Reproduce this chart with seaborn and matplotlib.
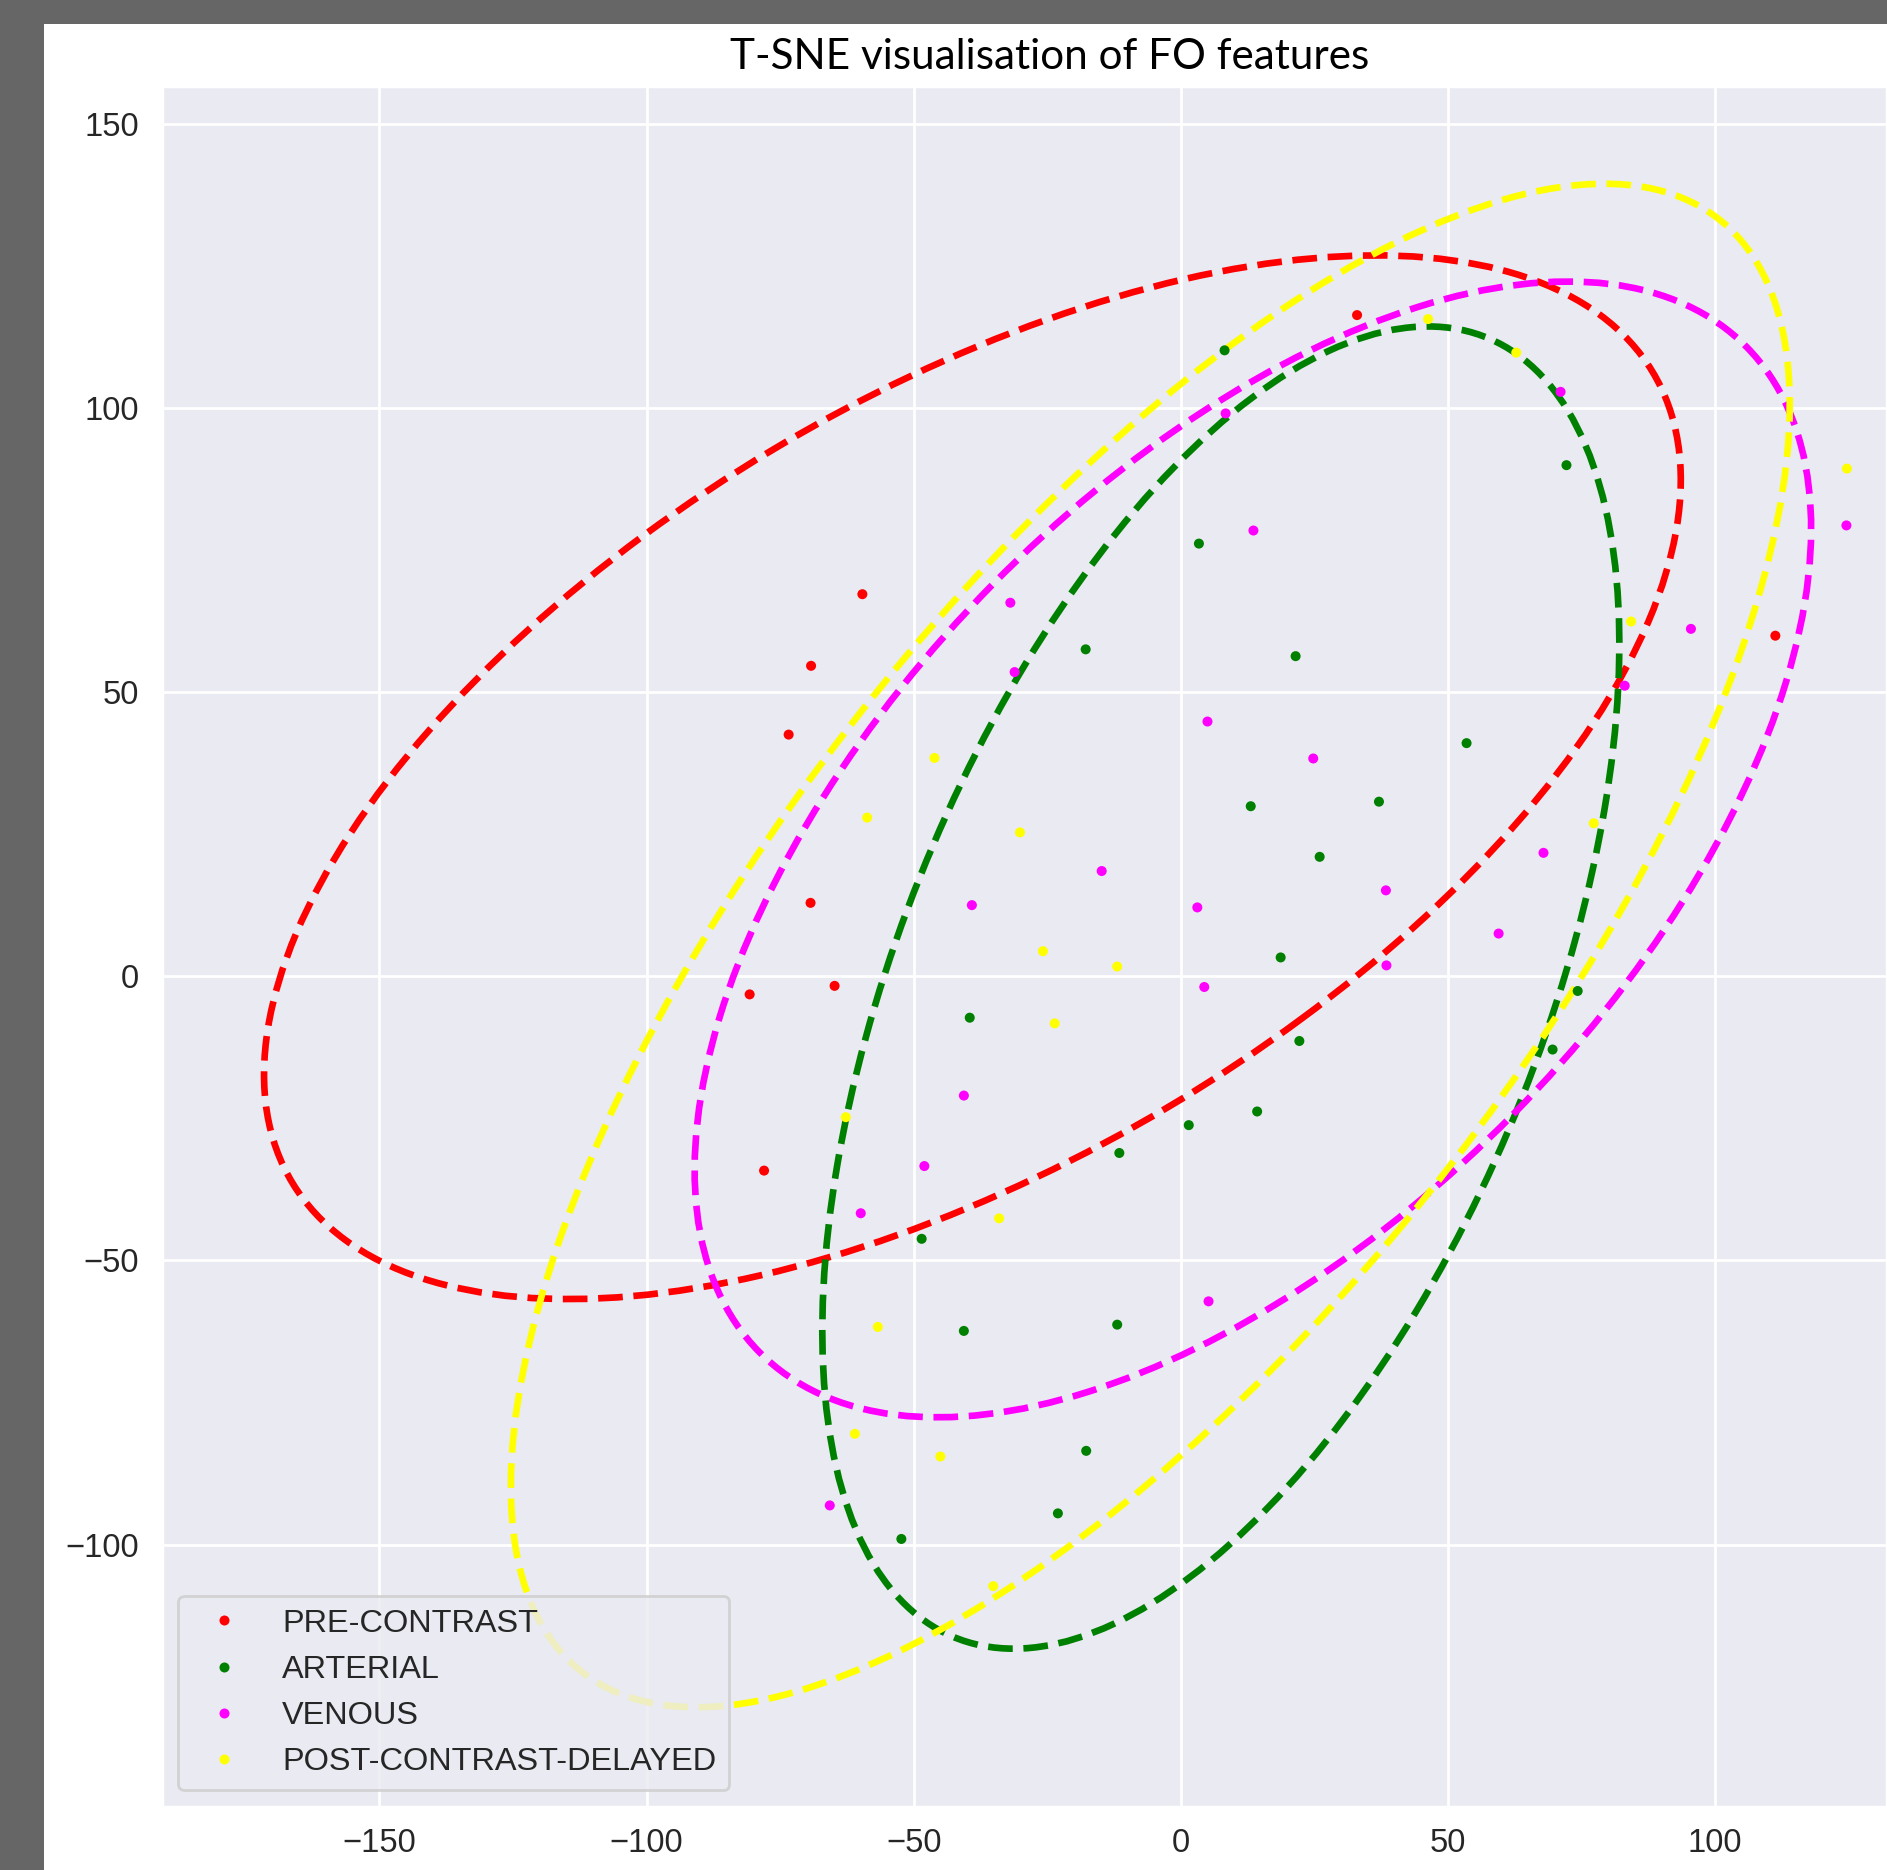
import numpy as np
import pandas as pd
import matplotlib
matplotlib.use("Agg")
import matplotlib.pyplot as plt
import matplotlib.transforms as transforms
from matplotlib.patches import Ellipse, Rectangle
from matplotlib import font_manager
import seaborn as sns

# ---------------- data ----------------
phases = ["PRE-CONTRAST", "ARTERIAL", "VENOUS", "POST-CONTRAST-DELAYED"]
phase_colors = ["red", "green", "magenta", "yellow"]

pre_x = [33.0, -59.6, -69.2, -73.4, -69.3, -80.7, -64.8, -78.0, 111.3]
pre_y = [116.3, 67.2, 54.6, 42.5, 12.9, -3.2, -1.7, -34.2, 59.9]

art_x = [8.2, 72.2, 3.4, -17.8, 21.5, 53.5, 13.1, 37.1, 26.0, 18.7, -39.5, 22.2,
         74.3, 69.6, 14.3, 1.5, -11.5, -48.5, -40.6, -11.9, -17.7, -23.0, -52.3]
art_y = [110.1, 89.9, 76.1, 57.5, 56.3, 41.0, 29.9, 30.7, 21.0, 3.3, -7.3, -11.4,
         -2.6, -12.9, -23.8, -26.2, -31.1, -46.2, -62.4, -61.3, -83.5, -94.5, -99.0]

ven_x = [8.4, 71.1, 13.6, -31.9, -31.1, 5.0, 24.8, 124.6, 95.5, 83.1, -14.8, -39.1,
         3.1, 38.4, 67.9, 59.5, 38.5, 4.4, -40.6, -48.0, -59.9, 5.2, -65.7]
ven_y = [99.0, 102.8, 78.4, 65.7, 53.5, 44.8, 38.3, 79.3, 61.1, 51.1, 18.5, 12.5,
         12.1, 15.1, 21.7, 7.5, 1.9, -1.9, -21.0, -33.4, -41.7, -57.2, -93.1]

del_x = [46.3, 62.8, 124.7, 84.3, -46.1, -58.7, -30.1, 77.3, -25.8, -11.9, -23.6,
         -62.7, -34.0, -56.7, -61.0, -45.0, -35.1]
del_y = [115.6, 109.7, 89.3, 62.4, 38.4, 27.9, 25.3, 26.9, 4.4, 1.7, -8.3,
         -24.8, -42.6, -61.7, -80.5, -84.5, -107.3]

# confidence ellipses: centre, half-extent in x / y, correlation
ell_cx = [-39.0, 7.5, 13.5, -5.7]
ell_cy = [35.0, -2.0, 22.3, 5.4]
ell_sx = [132.6, 74.6, 104.5, 119.7]
ell_sy = [91.8, 116.3, 99.9, 134.0]
ell_rho = [0.57, 0.52, 0.565, 0.71]

x_ticks = [-150, -100, -50, 0, 50, 100]
y_ticks = [-100, -50, 0, 50, 100, 150]
title = "T-SNE visualisation of FO features"

# ---------------- style ----------------
sns.set_theme(style="darkgrid")
plt.rcParams["font.family"] = ["Liberation Sans", "DejaVu Sans"]

W, H, DPI = 1887, 1870, 200
fig = plt.figure(figsize=(W / DPI, H / DPI), dpi=DPI, facecolor="white")

# grey frame strips (left and top)
fig.add_artist(Rectangle((0, 0), 44 / W, 1, transform=fig.transFigure,
                         facecolor="#666666", edgecolor="none", zorder=10))
fig.add_artist(Rectangle((0, 1 - 24 / H), 1, 24 / H, transform=fig.transFigure,
                         facecolor="#666666", edgecolor="none", zorder=10))

ax_l, ax_r, ax_t, ax_b = 162, W, 86, 1806.7
ax = fig.add_axes([ax_l / W, 1 - ax_b / H, (ax_r - ax_l) / W, (ax_b - ax_t) / H])

df = pd.DataFrame({
    "x": pre_x + art_x + ven_x + del_x,
    "y": pre_y + art_y + ven_y + del_y,
    "phase": [phases[0]] * len(pre_x) + [phases[1]] * len(art_x)
             + [phases[2]] * len(ven_x) + [phases[3]] * len(del_x),
})
palette = dict(zip(phases, phase_colors))

sns.scatterplot(data=df, x="x", y="y", hue="phase", hue_order=phases,
                palette=palette, s=13, linewidth=0, ax=ax, zorder=3)

for cx, cy, sx, sy, rho, col in zip(ell_cx, ell_cy, ell_sx, ell_sy, ell_rho, phase_colors):
    e = Ellipse((0, 0), width=2 * np.sqrt(1 + rho), height=2 * np.sqrt(1 - rho),
                facecolor="none", edgecolor=col, lw=2.4, ls="--", zorder=2)
    tr = transforms.Affine2D().rotate_deg(45).scale(sx, sy).translate(cx, cy)
    e.set_transform(tr + ax.transData)
    ax.add_patch(e)

ax.set_xlim(-190.7, 132.2)
ax.set_ylim(-146.1, 156.6)
ax.set_xticks(x_ticks)
ax.set_yticks(y_ticks)
ax.set_xlabel("")
ax.set_ylabel("")
ax.tick_params(axis="both", length=0, labelsize=11.8, labelcolor="#262626")
ax.tick_params(axis="x", pad=7.6)
ax.tick_params(axis="y", pad=8.3)

old = ax.get_legend()
handles = old.legend_handles
labels = [t.get_text() for t in old.get_texts()]
ax.legend(handles, labels, loc="lower left", fontsize=11.7, frameon=True)

# title font: prefer a narrow sans, else Lato
names = {f.name for f in font_manager.fontManager.ttflist}
if "Liberation Sans Narrow" in names:
    tfam = ["Liberation Sans Narrow", "DejaVu Sans"]
else:
    tfam = ["Lato", "DejaVu Sans"]
fp = font_manager.FontProperties(family=tfam)
t = fig.text(1050 / W, 1 - 69 / H, title, ha="center", va="baseline",
             fontproperties=fp, fontsize=16, color="black")
fig.canvas.draw()
bw = t.get_window_extent().width
t.set_fontsize(16 * 641 / bw)

fig.savefig("out.png", dpi=DPI)
